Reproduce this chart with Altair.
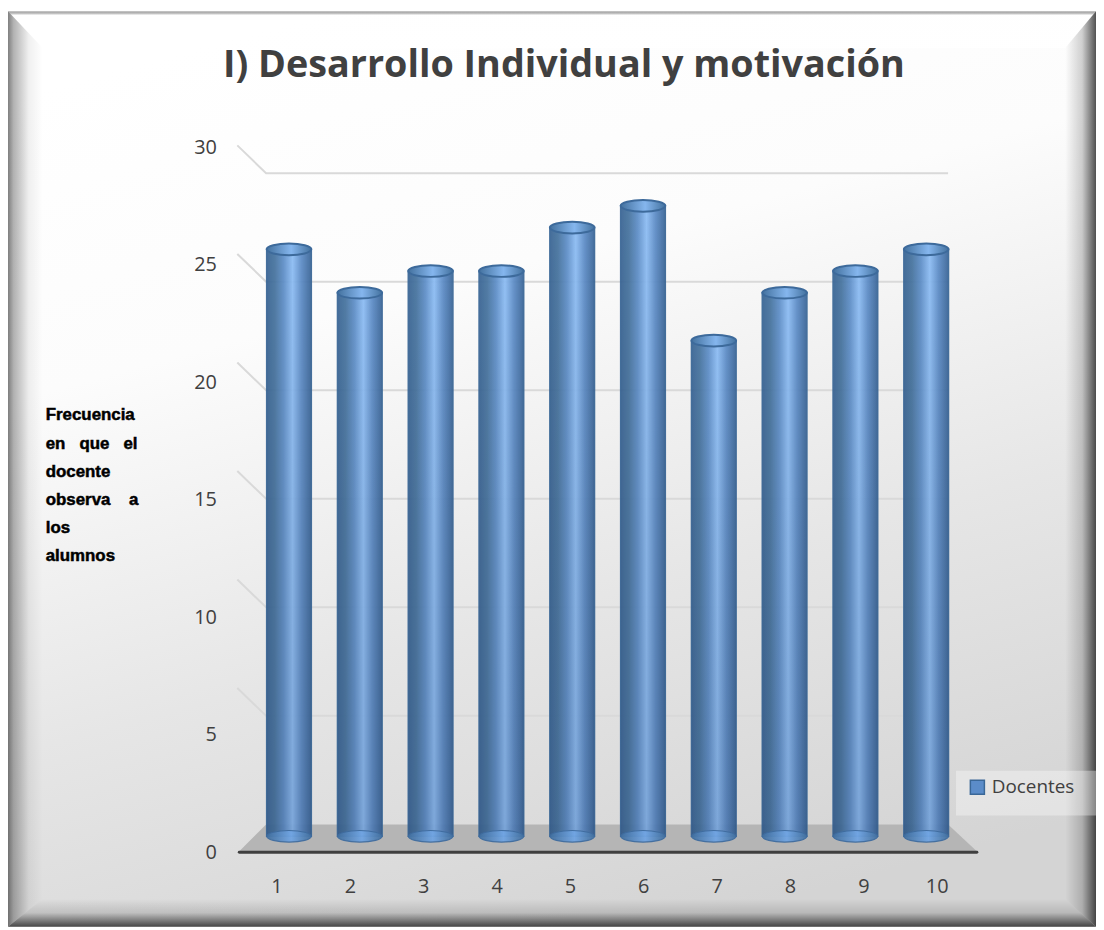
import altair as alt
import pandas as pd

# ---- data ----
categories = [str(i) for i in range(1, 11)]
docentes = [27, 25, 26, 26, 28, 29, 22.8, 25, 26, 27]
grid_ticks = [5, 10, 15, 20, 25, 30]
axis_ticks = [0, 5, 10, 15, 20, 25, 30]
title_text = "I) Desarrollo Individual y motivación"
side_lines = ["Frecuencia", "en\u00a0\u00a0\u00a0que\u00a0\u00a0\u00a0el", "docente",
              "observa\u00a0\u00a0\u00a0\u00a0a", "los", "alumnos"]

W, H = 1096, 922
FONT = "Open Sans"


def grad(stops, x1=0, y1=0, x2=1, y2=0):
    return alt.LinearGradient(
        gradient="linear", x1=x1, y1=y1, x2=x2, y2=y2,
        stops=[alt.GradientStop(color=c, offset=o) for o, c in stops])


one = pd.DataFrame({"k": [0]})
bars = pd.DataFrame({"cat": categories, "value": docentes, "serie": "Docentes"})
grid = pd.DataFrame({"tick": grid_ticks})
side = pd.DataFrame({"line": side_lines, "row": list(range(len(side_lines)))})


def shape(path, **kw):
    """A decoration drawn in the chart's own pixel coordinates."""
    return alt.Chart(one).mark_point(shape=path, size=4, filled=True, opacity=1, strokeWidth=0, **kw).encode(
        x=alt.value(0), y=alt.value(0))


def box(x, x2, y, y2, **kw):
    return alt.Chart(one).mark_rect(**kw).encode(
        x=alt.value(x), x2=alt.value(x2), y=alt.value(y), y2=alt.value(y2))


# ---- frame ----
L, T, R, B = 35, 37, 1065, 894
panel = box(0, W, 0, H, fill=grad([(0, "#ffffff"), (0.3, "#fcfcfc"), (0.65, "#e6e6e6"), (1, "#d4d4d4")],
                                  x1=0.3, y1=0, x2=0.62, y2=1))
bevel_top = shape(f"M0,0 L{W},0 L{R},{T} L{L},{T} Z",
                  fill=grad([(0, "rgba(0,0,0,0.32)"), (0.1, "rgba(255,255,255,0.75)"), (1, "rgba(255,255,255,0.9)")],
                            x1=0, y1=0, x2=0, y2=1))
bevel_left = shape(f"M0,0 L{L},{T} L{L},{B} L0,{H} Z",
                   fill=grad([(0, "rgba(0,0,0,0.5)"), (0.16, "rgba(0,0,0,0.3)"), (0.6, "rgba(0,0,0,0.06)"),
                              (1, "rgba(0,0,0,0)")]))
bevel_right = shape(f"M{W},0 L{R},{T} L{R},{B} L{W},{H} Z",
                    fill=grad([(0, "rgba(0,0,0,0)"), (0.55, "rgba(0,0,0,0.18)"), (1, "rgba(0,0,0,0.68)")]))
bevel_bottom = shape(f"M0,{H} L{L},{B} L{R},{B} L{W},{H} Z",
                     fill=grad([(0, "rgba(0,0,0,0)"), (0.5, "rgba(0,0,0,0.13)"), (1, "rgba(0,0,0,0.68)")],
                               x1=0, y1=0, x2=0, y2=1))

# ---- 3D floor and back grid ----
floor = shape("M232,847 L260,819 L947,819 L977,847 Z", fill="#b5b5b5")
front_axis = alt.Chart(one).mark_rule(color="#3f3f3f", strokeWidth=3, strokeCap="round").encode(
    x=alt.value(233), x2=alt.value(976), y=alt.value(847))

y_range = [847, 137]
back_y = alt.Y("tick:Q", axis=None, scale=alt.Scale(domain=[-1.28, 31.19], range=y_range))
grid_layer = alt.Chart(grid).mark_point(shape="M-29,-28 L0,0 L687,0", size=4, filled=False, opacity=1,
                                        stroke="#d9d9d9", strokeWidth=2).encode(
    x=alt.value(260), y=back_y)

# ---- cylinders ----
bar_x = alt.X("cat:N", axis=None, sort=None,
              scale=alt.Scale(type="band", domain=categories, range=[247.4, 960.6], paddingInner=0, paddingOuter=0))
bar_y = alt.Y("value:Q", axis=None, stack=None, scale=alt.Scale(domain=[-0.73, 31.69], range=y_range))
ELL = "M-1,0 A1,0.26 0 1,1 1,0 A1,0.26 0 1,1 -1,0 Z"
body_fill = grad([(0, "#3a6595"), (0.18, "#47749f"), (0.38, "#5f8fc8"), (0.58, "#8dbdf4"), (0.78, "#5d8cc6"),
                  (1, "#3b6698")])
body = alt.Chart(bars).mark_bar(size=45, fill=body_fill, stroke="#3a6797", strokeWidth=1.5, opacity=0.94).encode(
    x=bar_x, y=bar_y)
shade = alt.Chart(bars).mark_bar(size=45, fill=grad([(0, "rgba(0,0,0,0)"), (1, "rgba(10,30,70,0.14)")],
                                                    x1=0, y1=0, x2=0, y2=1)).encode(x=bar_x, y=bar_y)
bottom_y = alt.Y("zero:Q", axis=None, scale=alt.Scale(domain=[-0.73, 31.69], range=y_range))
base = alt.Chart(bars.assign(zero=0)).mark_point(shape=ELL, size=2025, filled=True, opacity=0.95, strokeWidth=1.2,
                                                 stroke="#3f6c9f",
                                                 fill=grad([(0, "#42709f"), (0.55, "#71a5e3"), (1, "#44719f")])).encode(
    x=bar_x, y=bottom_y)
top = alt.Chart(bars).mark_point(shape=ELL, size=2025, filled=True, opacity=1, strokeWidth=2, stroke="#3d6a9b",
                                 fill=grad([(0, "#44729f"), (0.55, "#85b6ee"), (1, "#44729f")])).encode(
    x=bar_x, y=bar_y)

# ---- legend backing ----
legend_box = box(955, W, 765, 810, fill="rgba(255,255,255,0.35)")

# ---- axes and legend ----
axis_label = dict(labelFont=FONT, labelFontSize=20, labelColor="#404040", domain=False, ticks=False,
                  grid=False, title=None, zindex=1)
axes_layer = alt.Chart(bars).mark_square(opacity=0).encode(
    x=alt.X("cat:N", sort=None,
            scale=alt.Scale(type="band", domain=categories, range=[234, 973], paddingInner=0, paddingOuter=0),
            axis=alt.Axis(orient="bottom", offset=-50, labelPadding=0, labelAngle=0, **axis_label)),
    y=alt.Y("value:Q", stack=None, scale=alt.Scale(domain=[0, 30], range=y_range),
            axis=alt.Axis(orient="left", values=axis_ticks, offset=-210, labelPadding=0, **axis_label)),
    color=alt.Color("serie:N", scale=alt.Scale(domain=["Docentes"], range=["#5b8cc9"]),
                    legend=alt.Legend(title=None, orient="none", legendX=963, legendY=768, symbolType="square",
                                      symbolSize=200, symbolOpacity=1, symbolStrokeColor="#3a6797",
                                      symbolStrokeWidth=1.5, labelFont=FONT, labelFontSize=19, labelColor="#404040",
                                      labelOffset=5, padding=4)),
)

# ---- side label ----
side_layer = alt.Chart(side).mark_text(align="left", baseline="middle", font="Liberation Sans", fontWeight="bold",
                                       fontSize=17, color="#000000", stroke="#000000", strokeWidth=0.5).encode(
    x=alt.value(38),
    y=alt.Y("row:Q", axis=None, scale=alt.Scale(domain=[0, 5], range=[407, 549])),
    text="line:N")

chart = alt.layer(
    panel, bevel_top, bevel_left, bevel_right, bevel_bottom,
    grid_layer, floor, front_axis, body, shade, base, top,
    legend_box, side_layer, axes_layer,
).resolve_scale(x="independent", y="independent").properties(
    width=W, height=H, padding=0,
    autosize=alt.AutoSizeParams(type="none"),
    title=alt.TitleParams(title_text, font=FONT, fontWeight="bold", fontSize=38, color="#404040",
                          anchor="middle", dx=12, dy=78, zindex=1),
).configure_view(stroke=None)

chart.save("out.html", embed_options={"renderer": "svg", "actions": False})
